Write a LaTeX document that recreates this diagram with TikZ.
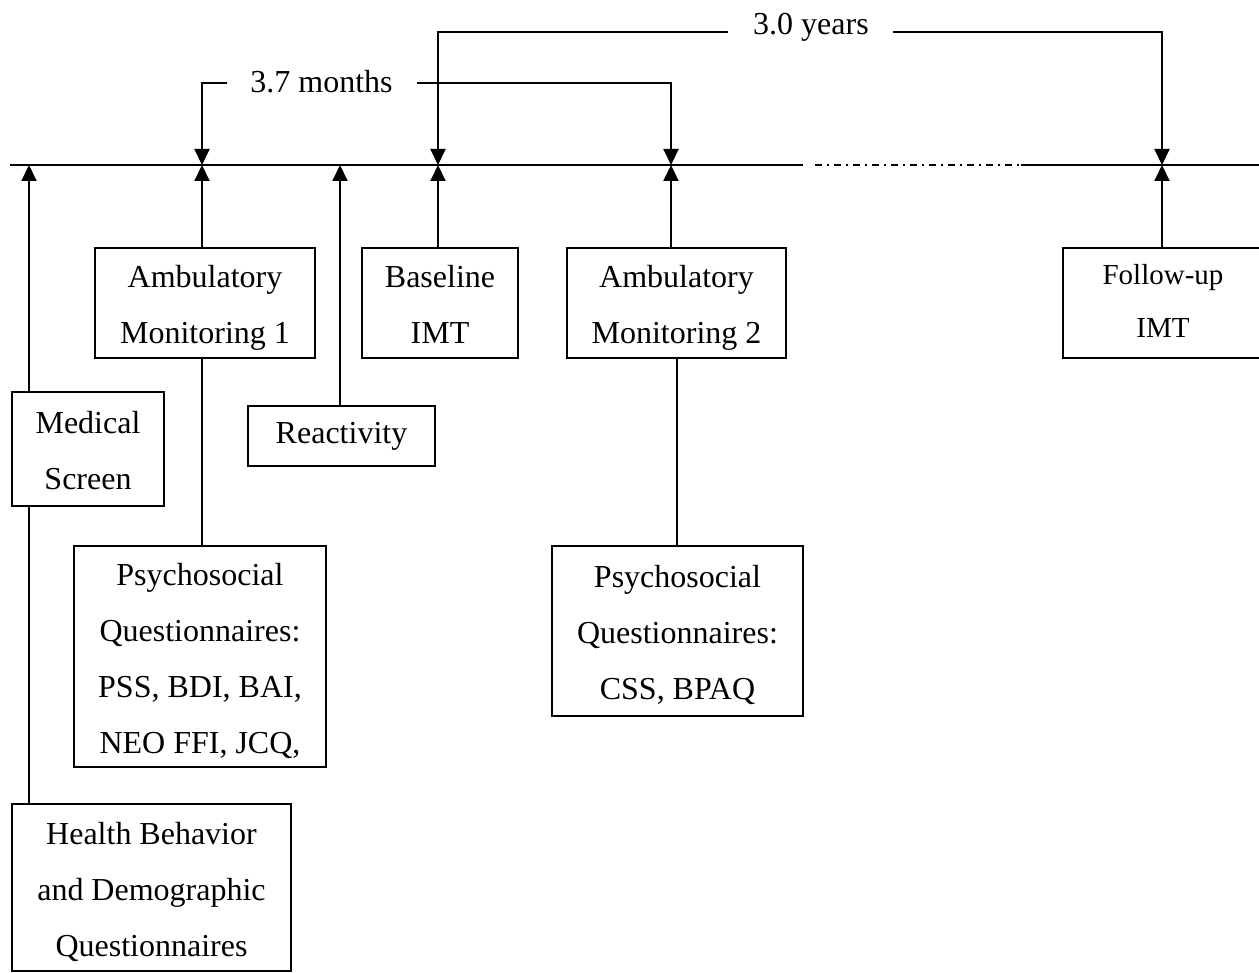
\documentclass[tikz,border=0pt]{standalone}
\usepackage{fontspec}
\setmainfont{Liberation Serif}
\usetikzlibrary{arrows.meta}
\newcommand{\txtTop}{\rule{0pt}{16pt}}
\newcommand{\txtTopS}{\rule{0pt}{11.5pt}}
\newcommand{\txtBot}{\rule[-3.5pt]{0pt}{3.5pt}}
\begin{document}
\begin{tikzpicture}[x=0.5pt,y=-0.5pt,
  line width=1pt,
  arr/.style={-{Triangle[width=7.5pt,length=8pt]}},
  dashdotline/.style={line width=0.9pt,dash pattern=on 3.5pt off 2.5pt on 1pt off 2.5pt},
  box/.style={draw,line width=1pt,align=center,inner sep=0pt,font=\fontsize{16}{28}\selectfont},
  smallbox/.style={box,font=\fontsize{14.5}{26}\selectfont},
  lbl/.style={inner sep=0pt,anchor=base,font=\fontsize{16}{28}\selectfont}]
\useasboundingbox (0,0) rectangle (1259,973);
% timeline points
\coordinate (tl0) at (10,165);
\coordinate (tda) at (803,165);
\coordinate (tdc) at (815,165);
\coordinate (tdb) at (1021,165);
\coordinate (tl1) at (1262,165);
\coordinate (t1) at (29,165);
\coordinate (t2) at (202,165);
\coordinate (t3) at (340,165);
\coordinate (t4) at (438,165);
\coordinate (t5) at (671,165);
\coordinate (t5b) at (677,165);
\coordinate (t6) at (1162,165);
\draw (tl0) -- (tda);
\draw[dashdotline] (tdc) -- (tdb);
\draw (tdb) -- (tl1);
% boxes
\node[box,minimum width=76pt,minimum height=57pt] (ms) at (88,449) {\txtTop Medical\\Screen\txtBot};
\node[box,minimum width=110pt,minimum height=55pt] (am1) at (205,303) {\txtTop Ambulatory\\Monitoring 1\txtBot};
\node[box,minimum width=93.5pt,minimum height=30pt] (re) at (341.5,436) {\rule{0pt}{10.5pt}Reactivity\txtBot};
\node[box,minimum width=78pt,minimum height=55pt] (bl) at (440,303) {\txtTop Baseline\\IMT\txtBot};
\node[box,minimum width=109.5pt,minimum height=55pt] (am2) at (676.5,303) {\txtTop Ambulatory\\Monitoring 2\txtBot};
\node[smallbox,minimum width=100pt,minimum height=55pt] (fu) at (1163,303) {\txtTopS Follow-up\\IMT\txtBot};
\node[box,minimum width=126pt,minimum height=110.5pt] (ps1) at (200,656.5) {\txtTop Psychosocial\\Questionnaires:\\PSS, BDI, BAI,\\NEO FFI, JCQ,\txtBot};
\node[box,minimum width=125.5pt,minimum height=85pt] (ps2) at (677.5,631) {\txtTop Psychosocial\\Questionnaires:\\CSS, BPAQ\txtBot};
\node[box,minimum width=139.5pt,minimum height=83.5pt] (hb) at (151.5,887.5) {\txtTop Health Behavior\\and Demographic\\Questionnaires\txtBot};
% connectors to timeline
\draw[arr] (ms.north -| t1) -- (t1);
\draw (ms.south -| t1) -- (hb.north -| t1);
\draw[arr] (am1.north -| t2) -- (t2);
\draw (am1.south -| t2) -- (ps1.north -| t2);
\draw[arr] (re.north -| t3) -- (t3);
\draw[arr] (bl.north -| t4) -- (t4);
\draw[arr] (am2.north -| t5) -- (t5);
\draw (am2.south -| t5b) -- (ps2.north -| t5b);
\draw[arr] (fu.north -| t6) -- (t6);
% interval labels
\node[lbl] (m37) at (321.5,93) {3.7 months};
\node[lbl] (y30) at (811,35) {3.0 years};
\coordinate (m37L) at (227,83);
\coordinate (m37R) at (417,83);
\coordinate (y30L) at (728,32);
\coordinate (y30R) at (893,32);
\draw[arr] (m37L) -| (t2);
\draw[arr] (m37R) -| (t5);
\draw[arr] (y30L) -| (t4);
\draw[arr] (y30R) -| (t6);
\end{tikzpicture}
\end{document}
